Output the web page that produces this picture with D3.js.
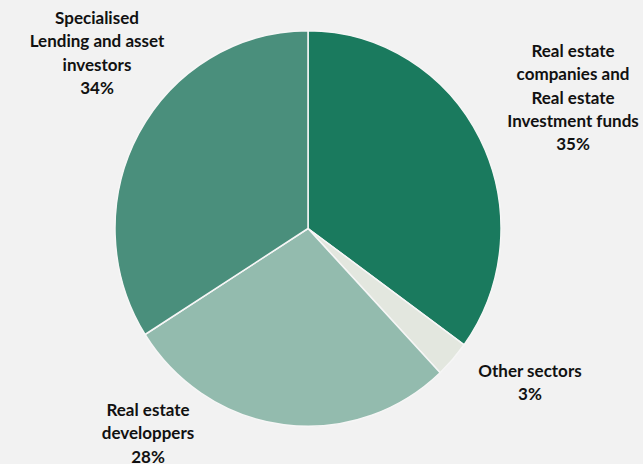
<!DOCTYPE html>
<html>
<head>
<meta charset="utf-8">
<script src="https://cdn.jsdelivr.net/npm/d3@7"></script>
<style>
  html, body { margin: 0; padding: 0; background: #f2f2f2; }
  svg { display: block; }
  text { font-family: Lato, "Open Sans", sans-serif; font-weight: 700; font-size: 17px; fill: #111; }
</style>
</head>
<body>
<div id="chart"></div>
<script>
// dimensions
const width = 643;
const height = 464;

// data
const sectors = [
  ["Real estate", "companies and", "Real estate", "Investment funds"],
  ["Other sectors"],
  ["Real estate", "developpers"],
  ["Specialised", "Lending and asset", "investors"]
];
const shares = [35, 3, 28, 34];
const colors = ["#1a7a5e", "#e3e7df", "#93bbae", "#4a8f7c"];

// label anchors (centre x, first baseline y)
const labelPos = [[573, 57], [530, 377], [148, 416], [97, 24]];

const cx = 308, cy = 228.5, r = 193;

const svg = d3.select("#chart")
  .append("svg")
  .attr("width", width)
  .attr("height", height);

const pie = d3.pie().sort(null).value(d => d);
const arc = d3.arc().innerRadius(0).outerRadius(r);

const g = svg.append("g")
  .attr("transform", `translate(${cx},${cy}) scale(1,1.025)`);

g.selectAll("path")
  .data(pie(shares))
  .join("path")
  .attr("d", arc)
  .attr("fill", (d, i) => colors[i])
  .attr("stroke", "#f6f6f6")
  .attr("stroke-width", 1.5)
  .attr("stroke-linejoin", "round");

// labels
const lineH = 23.3;
sectors.forEach((lines, i) => {
  const t = svg.append("text")
    .attr("text-anchor", "middle")
    .attr("x", labelPos[i][0])
    .attr("y", labelPos[i][1]);
  lines.concat([shares[i] + "%"]).forEach((s, j) => {
    t.append("tspan")
      .attr("x", labelPos[i][0])
      .attr("dy", j === 0 ? 0 : lineH)
      .text(s);
  });
});
</script>
</body>
</html>
